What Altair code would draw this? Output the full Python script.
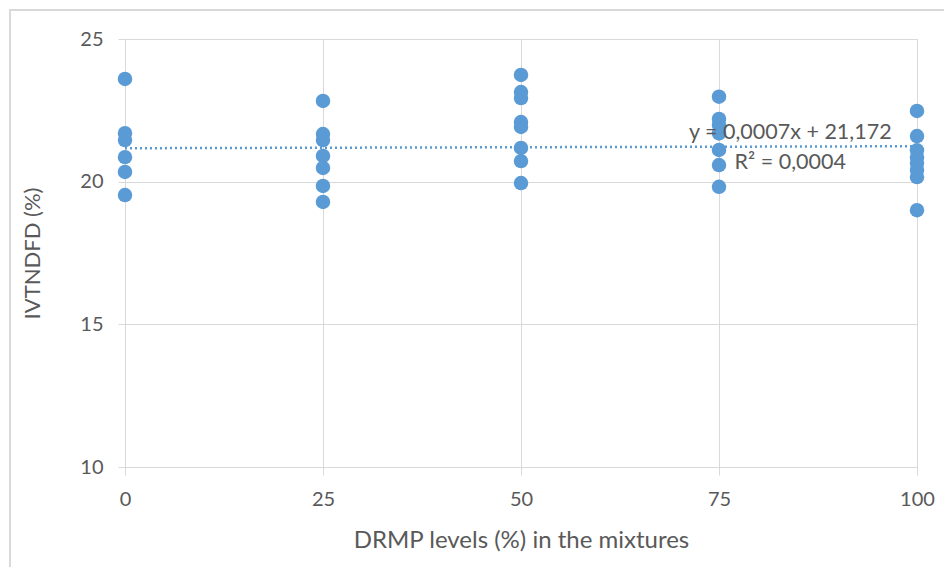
import altair as alt
import pandas as pd

# Data
levels_0 = [23.60, 21.70, 21.46, 20.86, 20.34, 19.53]
levels_25 = [22.83, 21.67, 21.46, 20.90, 20.48, 19.85, 19.29]
levels_50 = [23.74, 23.14, 22.93, 22.09, 21.92, 21.18, 20.72, 19.95]
levels_75 = [22.98, 22.20, 21.99, 21.69, 21.11, 20.58, 19.82]
levels_100 = [22.48, 21.60, 21.10, 20.86, 20.65, 20.41, 20.16, 19.00]
x_levels = [0, 25, 50, 75, 100]

slope = 0.0007
intercept = 21.172
trend_x = [0, 100]

label_texts = ["y = 0,0007x + 21,172", "R\u00b2 = 0,0004"]
label_x = [84.0, 84.0]
label_y = [21.71, 20.65]

rows = []
for lv, vals in zip(x_levels, [levels_0, levels_25, levels_50, levels_75, levels_100]):
    for v in vals:
        rows.append({"x": lv, "y": v})
df = pd.DataFrame(rows)
trend = pd.DataFrame({"x": trend_x, "y": [intercept + slope * t for t in trend_x]})
labels = pd.DataFrame({"x": label_x, "y": label_y, "t": label_texts})

FONT = "Lato"
GRAY = "#d9d9d9"
TXT = "#595959"
BLUE = "#5B9BD5"

xscale = alt.Scale(domain=[0, 100], nice=False)
yscale = alt.Scale(domain=[10, 25], nice=False, zero=False)

xaxis = alt.Axis(values=x_levels, title="DRMP levels (%) in the mixtures", grid=True,
                 gridColor=GRAY, domainColor=GRAY, tickColor=GRAY, tickSize=8,
                 labelPadding=14, labelFontSize=20, labelColor=TXT, labelFont=FONT,
                 titleFontSize=24, titleColor=TXT, titleFont=FONT, titleFontWeight="normal",
                 titleY=73, titleBaseline="middle", labelFlush=False)
yaxis = alt.Axis(values=[10, 15, 20, 25], title="IVTNDFD (%)", grid=True,
                 gridColor=GRAY, domainColor=GRAY, tickColor=GRAY, tickSize=7,
                 labelPadding=15, labelFontSize=20, labelColor=TXT, labelFont=FONT,
                 titleFontSize=22, titleColor=TXT, titleFont=FONT, titleFontWeight="normal",
                 titleX=-93, titleBaseline="middle", labelFlush=False)

border = alt.Chart(pd.DataFrame({"a": [0]})).mark_rect(
    fill=None, stroke=GRAY, strokeWidth=2, clip=False
).encode(x=alt.value(-115), x2=alt.value(840), y=alt.value(-29), y2=alt.value(560))

points = alt.Chart(df).mark_circle(size=210, opacity=1, color=BLUE).encode(
    x=alt.X("x:Q", scale=xscale, axis=xaxis),
    y=alt.Y("y:Q", scale=yscale, axis=yaxis),
)

line = alt.Chart(trend).mark_line(color=BLUE, strokeDash=[2, 3], strokeWidth=2.5).encode(
    x=alt.X("x:Q", scale=xscale), y=alt.Y("y:Q", scale=yscale)
)

text = alt.Chart(labels).mark_text(font=FONT, fontSize=21.5, color=TXT, align="center", baseline="middle").encode(
    x=alt.X("x:Q", scale=xscale), y=alt.Y("y:Q", scale=yscale), text="t:N"
)

chart = alt.layer(border, points, line, text).properties(
    width=792, height=428,
    autosize=alt.AutoSizeParams(type="none"),
    padding={"left": 117, "top": 31, "right": 27, "bottom": 100},
).configure_view(stroke=None).configure(background="white")

chart.save("out.html", embed_options={"renderer": "svg", "actions": False})
